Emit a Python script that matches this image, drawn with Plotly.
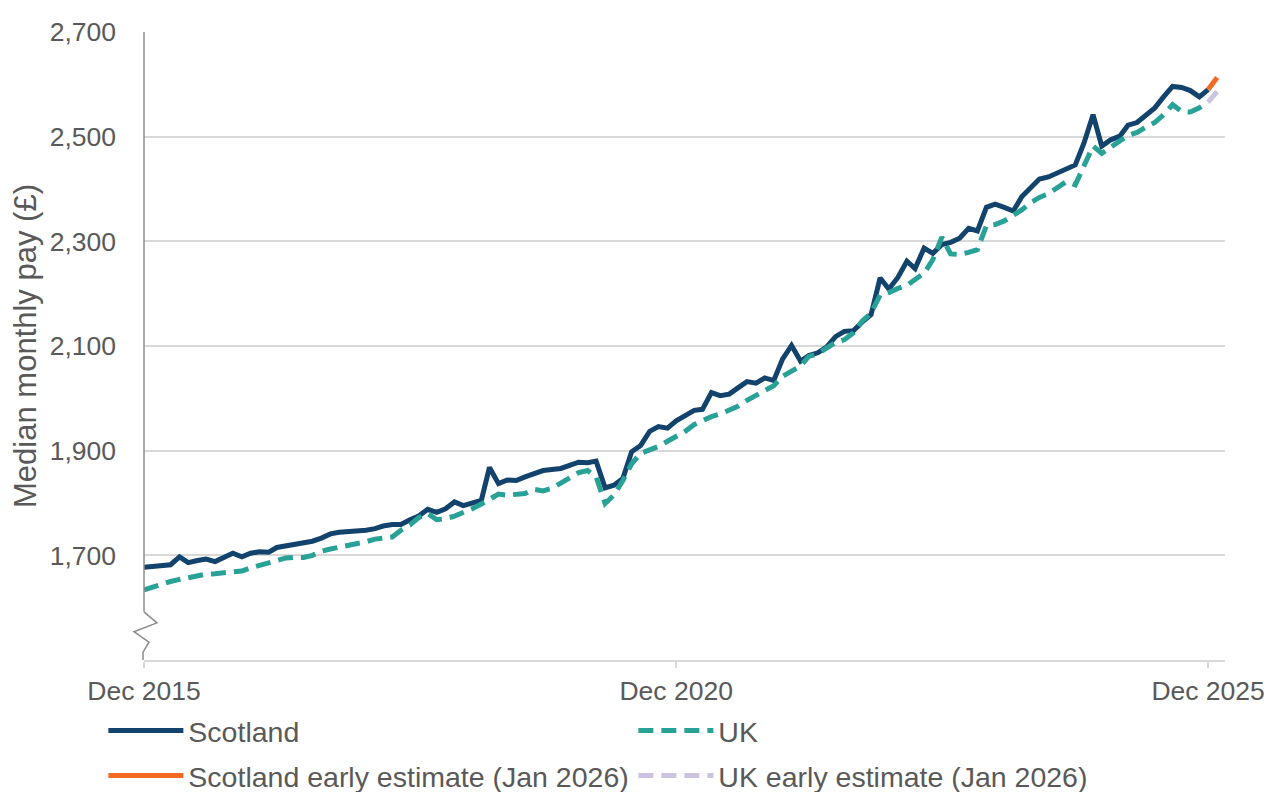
import pandas as pd
import plotly.graph_objects as go

# Monthly data, Dec 2015 .. Dec 2025 (121 months)
months = pd.date_range("2015-12-01", "2025-12-01", freq="MS")

scotland = [
    1677, 1679, 1680, 1682, 1697, 1686, 1690, 1693, 1688, 1696,
    1704, 1697, 1704, 1707, 1706, 1715, 1718, 1720, 1724, 1727,
    1733, 1741, 1744, 1745, 1746, 1748, 1751, 1756, 1759, 1759,
    1768, 1775, 1788, 1782, 1789, 1802, 1795, 1801, 1805, 1868,
    1837, 1844, 1843, 1850, 1857, 1862, 1864, 1866, 1872, 1878,
    1877, 1880, 1829, 1834, 1847, 1898, 1910, 1937, 1946, 1943,
    1957, 1967, 1977, 1979, 2011, 2005, 2008, 2020, 2032, 2029,
    2039, 2034, 2075, 2101, 2071, 2082, 2087, 2098, 2118, 2128,
    2129, 2146, 2160, 2230, 2209, 2231, 2262, 2248, 2287, 2277,
    2294, 2298, 2306, 2325, 2320, 2365, 2371, 2365, 2358, 2385,
    2402, 2419, 2423, 2431, 2439, 2446, 2488, 2542, 2482, 2494,
    2501, 2522, 2527, 2540, 2555, 2576, 2596, 2594, 2588, 2576,
    2590,
]

uk = [
    1634, 1640, 1646, 1650, 1654, 1658, 1661, 1664, 1665, 1666,
    1668, 1670, 1676, 1681, 1686, 1692, 1695, 1696, 1696, 1700,
    1708, 1712, 1715, 1718, 1722, 1726, 1731, 1733, 1735, 1748,
    1758, 1772, 1780, 1768, 1770, 1775, 1781, 1789, 1798, 1808,
    1817, 1815, 1817, 1818, 1826, 1823, 1828, 1838, 1848, 1858,
    1862, 1850, 1799, 1815, 1843, 1875, 1895, 1901, 1908, 1918,
    1927, 1937, 1950, 1958, 1965, 1970, 1977, 1985, 1996, 2007,
    2015, 2024, 2042, 2052, 2062, 2080, 2085, 2096, 2107, 2112,
    2125, 2148, 2163, 2197, 2202, 2210, 2216, 2227, 2239, 2265,
    2308, 2276, 2275, 2279, 2284, 2330, 2332, 2339, 2349, 2360,
    2374, 2384, 2391, 2401, 2414, 2408, 2445, 2482, 2468, 2481,
    2492, 2502, 2508, 2518, 2527, 2542, 2561, 2548, 2547, 2555,
    2566,
]

# Early estimates (Dec 2025 -> Jan 2026)
early_dates = ["2025-12-01", "2026-01-01"]
scotland_early = [2590, 2613]
uk_early = [2566, 2586]

tick_dates = ["2015-12-01", "2020-12-01", "2025-12-01"]
tick_text = ["Dec 2015", "Dec 2020", "Dec 2025"]
y_ticks = [1700, 1900, 2100, 2300, 2500, 2700]
y_tick_text = [f"{v:,}" for v in y_ticks]

FONT = "Liberation Sans, Arial, sans-serif"
TXT = "#595959"
DARK_BLUE = "#12436D"
TEAL = "#28A197"
ORANGE = "#F46A25"
LAVENDER = "#CBC3E0"
FS = 26.5
LEG_FS = 28.5

fig = go.Figure()
fig.add_trace(go.Scatter(x=months, y=scotland, mode="lines", name="Scotland",
                         line=dict(color=DARK_BLUE, width=5), legend="legend"))
fig.add_trace(go.Scatter(x=months, y=uk, mode="lines", name="UK",
                         line=dict(color=TEAL, width=5, dash="15px,8px"), legend="legend"))
fig.add_trace(go.Scatter(x=early_dates, y=scotland_early, mode="lines",
                         name="Scotland early estimate (Jan 2026)",
                         line=dict(color=ORANGE, width=5), legend="legend2"))
fig.add_trace(go.Scatter(x=early_dates, y=uk_early, mode="lines",
                         name="UK early estimate (Jan 2026)",
                         line=dict(color=LAVENDER, width=5, dash="15px,8px"), legend="legend2"))

# y-axis line with break symbol
fig.add_shape(type="line", xref="paper", yref="y", x0=0, x1=0, y0=1592, y1=2700,
              line=dict(color="#8c8c8c", width=1.5), layer="above")
fig.add_shape(type="path", xref="paper", yref="y",
              path="M 0,1592 L 0.012,1571 L -0.0093,1554 L 0.0046,1534 L -0.0009,1515 L -0.0009,1500",
              line=dict(color="#8c8c8c", width=1.5), layer="above")

legend_common = dict(orientation="h", xanchor="left", yanchor="middle",
                     font=dict(family=FONT, size=LEG_FS, color=TXT),
                     bgcolor="rgba(0,0,0,0)", itemwidth=75,
                     entrywidth=440, entrywidthmode="pixels",
                     traceorder="normal", itemclick=False)

fig.update_layout(
    width=1272, height=792,
    margin=dict(l=136, r=55, t=24, b=140, autoexpand=False),
    paper_bgcolor="white", plot_bgcolor="white",
    font=dict(family=FONT, size=FS, color=TXT),
    showlegend=True,
    legend=dict(x=-0.0376, y=-0.113, **legend_common),
    legend2=dict(x=-0.0376, y=-0.1845, **legend_common),
    xaxis=dict(
        type="date", range=["2015-12-01", "2026-01-28"],
        tickvals=tick_dates, ticktext=tick_text,
        showgrid=False, zeroline=False,
        showline=True, linecolor="#d9d9d9", linewidth=2,
        ticks="outside", ticklen=6, tickcolor="#d9d9d9", tickwidth=1.5,
        tickfont=dict(family=FONT, size=FS, color=TXT),
    ),
    yaxis=dict(
        range=[1500, 2700], tickvals=y_ticks, ticktext=y_tick_text,
        showgrid=True, gridcolor="#d9d9d9", gridwidth=1.5,
        zeroline=False, showline=False, ticks="",
        ticklabelstandoff=27,
        tickfont=dict(family=FONT, size=FS, color=TXT),
        title=dict(text="Median monthly pay (£)", standoff=4,
                   font=dict(family=FONT, size=31, color=TXT)),
    ),
)

fig.write_html("out.html")
